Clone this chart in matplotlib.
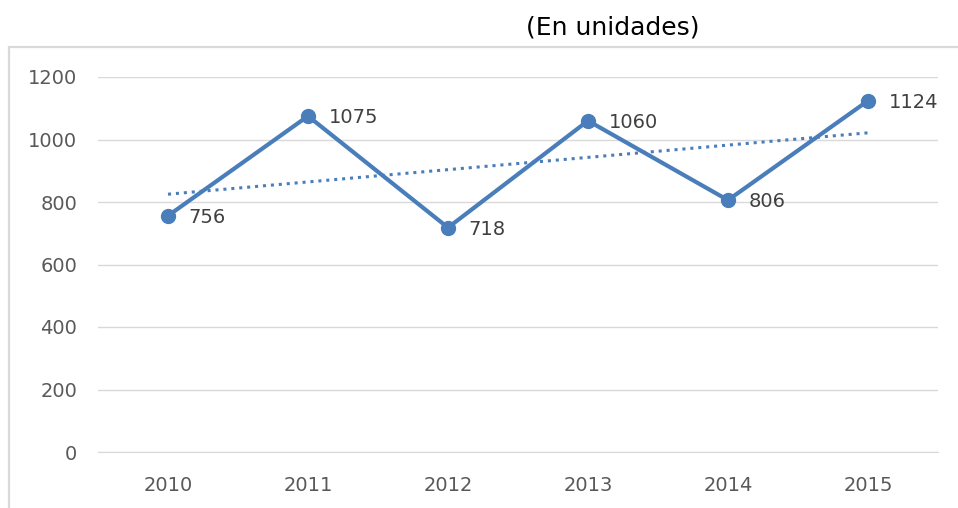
import matplotlib

matplotlib.use("Agg")
import matplotlib.pyplot as plt
import numpy as np
from matplotlib.patches import Rectangle

YEARS = ["2010", "2011", "2012", "2013", "2014", "2015"]
UNITS = [756, 1075, 718, 1060, 806, 1124]
Y_TICKS = [0, 200, 400, 600, 800, 1000, 1200]
TITLE = "(En unidades)"

LINE_COLOR = "#4a7ebb"
W, H = 958, 508

fig = plt.figure(figsize=(W / 100, H / 100), dpi=100)
fig.patch.set_facecolor("white")

# chart frame, open at the right and bottom edges like the crop
fig.add_artist(Rectangle((9 / W, -0.05), 1.0, (508 - 47) / H + 0.05,
                         transform=fig.transFigure, fill=False,
                         edgecolor="#d9d9d9", linewidth=1.6))

ax = fig.add_axes([98 / W, (H - 452) / H, (938 - 98) / W, (452 - 77) / H])
x = np.arange(len(YEARS))

# linear trend line (least squares on the series)
slope, icpt = np.polyfit(x, UNITS, 1)
ax.plot(x, slope * x + icpt, linestyle=(0, (1, 1.6)), color=LINE_COLOR,
        linewidth=2.2, zorder=2)

ax.plot(x, UNITS, color=LINE_COLOR, linewidth=3.0, marker="o",
        markersize=10, zorder=3)

for xi, v in zip(x, UNITS):
    ax.annotate(str(v), (xi, v), xytext=(15, -1), textcoords="offset points",
                ha="left", va="center", fontsize=14, color="#404040")

ax.set_xlim(-0.5, len(YEARS) - 0.5)
ax.set_ylim(0, 1200)
ax.set_yticks(Y_TICKS)
ax.set_xticks(x, YEARS)
ax.grid(axis="y", color="#d9d9d9", linewidth=1.0)
ax.set_axisbelow(True)
for s in ax.spines.values():
    s.set_visible(False)
ax.spines["bottom"].set_visible(True)
ax.spines["bottom"].set_color("#d9d9d9")
ax.tick_params(length=0, labelsize=14, labelcolor="#595959")
ax.tick_params(axis="y", pad=15)
ax.tick_params(axis="x", pad=17)

fig.text(613 / W, 1 - 28 / H, TITLE, ha="center", va="center",
         fontsize=18, color="#000000")

fig.savefig("out.png", dpi=100)
